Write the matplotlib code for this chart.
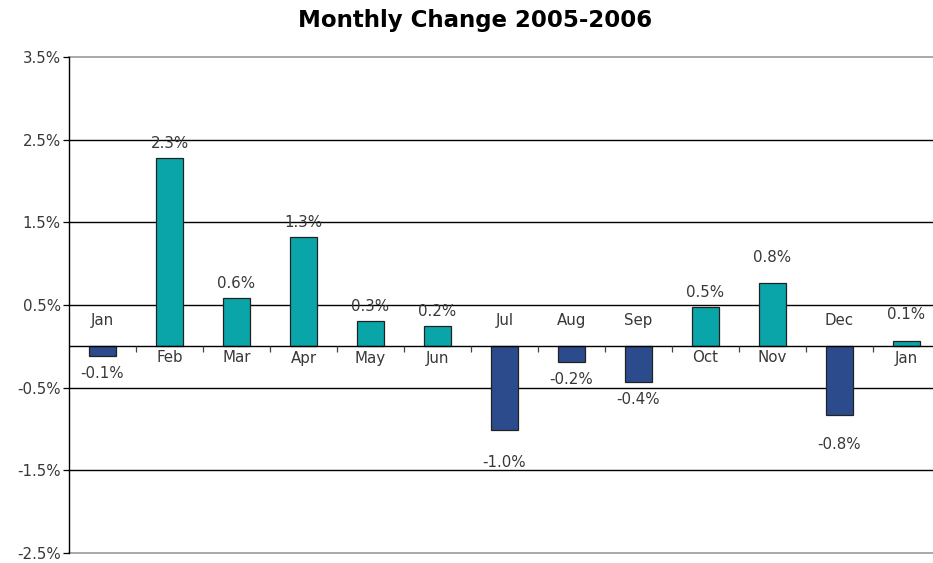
import matplotlib
matplotlib.use("Agg")
import matplotlib.pyplot as plt
from matplotlib.ticker import FixedLocator, FuncFormatter

months = ["Jan", "Feb", "Mar", "Apr", "May", "Jun", "Jul", "Aug", "Sep", "Oct", "Nov", "Dec", "Jan"]
changes = [-0.12, 2.28, 0.58, 1.32, 0.31, 0.25, -1.01, -0.19, -0.43, 0.48, 0.77, -0.83, 0.07]
value_labels = ["-0.1%", "2.3%", "0.6%", "1.3%", "0.3%", "0.2%", "-1.0%", "-0.2%", "-0.4%", "0.5%", "0.8%", "-0.8%", "0.1%"]
y_ticks = [-2.5, -1.5, -0.5, 0.5, 1.5, 2.5, 3.5]

# extra label offsets (points) used by the original layout
extra_off = [0, 0, 0, 0, 0, 0, 11, 0, 0, 0, 8, 9, 8]

POS = "#0AA5A8"
NEG = "#2B4B8C"
TXT = "#383838"
FS = 10.8

W, H = 933, 563
fig = plt.figure(figsize=(W / 100, H / 100), dpi=100)
ax = fig.add_axes([69 / W, (H - 553) / H, (W - 69) / W, (553 - 57) / H])

x = list(range(len(months)))
colors = [POS if v >= 0 else NEG for v in changes]
ax.bar(x, changes, width=0.4, color=colors, edgecolor="#222222", linewidth=0.9, zorder=3)

ax.set_ylim(-2.5, 3.5)
ax.set_xlim(-0.5, -0.5 + (W - 69) / 67)
ax.yaxis.set_major_locator(FixedLocator(y_ticks))
ax.yaxis.set_major_formatter(FuncFormatter(lambda v, p: f"{v:.1f}%"))
ax.tick_params(axis="y", length=4, width=0.9, colors="black", labelcolor=TXT, labelsize=FS, pad=2)
ax.set_xticks([])
for yv in y_ticks:
    edge = yv in (y_ticks[0], y_ticks[-1])
    ax.axhline(yv, color="#999999" if edge else "black", lw=1.2 if edge else 1.0, zorder=1, clip_on=False)
ax.axhline(0, color="black", lw=1.0, zorder=4)
for i in range(len(months)):
    ax.plot([i + 0.5], [0], marker=3, markersize=4, color="#444444", mew=0.9, zorder=4, clip_on=False)

for s in ["top", "right", "bottom"]:
    ax.spines[s].set_visible(False)
ax.spines["left"].set_color("black")
ax.spines["left"].set_linewidth(1.0)

for i, (v, lab) in enumerate(zip(changes, value_labels)):
    if v >= 0:
        ax.annotate(lab, (i, v), xytext=(0, 5 + extra_off[i]), textcoords="offset points",
                    ha="center", va="bottom", fontsize=FS, color=TXT, zorder=5)
        ax.annotate(months[i], (i, 0), xytext=(0, -3), textcoords="offset points",
                    ha="center", va="top", fontsize=FS, color=TXT, zorder=5)
    else:
        ax.annotate(lab, (i, v), xytext=(0, -7 - extra_off[i]), textcoords="offset points",
                    ha="center", va="top", fontsize=FS, color=TXT, zorder=5)
        ax.annotate(months[i], (i, 0), xytext=(0, 13), textcoords="offset points",
                    ha="center", va="bottom", fontsize=FS, color=TXT, zorder=5)

fig.text(475 / W, 1 - 21 / H, "Monthly Change 2005-2006", ha="center", va="center",
         fontsize=16.5, fontweight="bold", color="black")

fig.savefig("out.png", dpi=100)
